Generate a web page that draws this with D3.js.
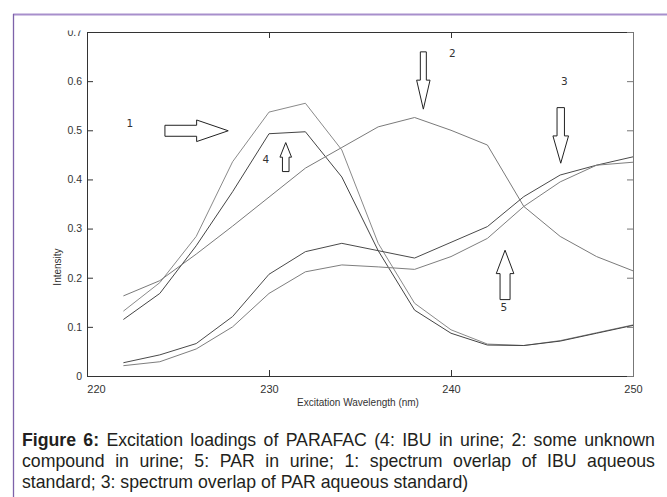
<!DOCTYPE html>
<html><head><meta charset="utf-8">
<script src="https://cdn.jsdelivr.net/npm/d3@7/dist/d3.min.js"></script>
<style>body{margin:0;background:#fff}svg{display:block}</style>
</head><body>
<svg id="c" width="667" height="497"></svg>
<script>
// ---- data ----
const wavelengths = [222,224,226,228,230,232,234,236,238,240,242,244,246,248,250];
const ibuAqueous   = [0.132,0.190,0.284,0.436,0.537,0.555,0.460,0.270,0.148,0.094,0.065,0.062,0.072,0.088,0.104]; // 1
const ibuUrine     = [0.115,0.168,0.265,0.375,0.493,0.497,0.405,0.255,0.134,0.087,0.063,0.062,0.071,0.087,0.103]; // 4
const unknownUrine = [0.163,0.194,0.248,0.305,0.364,0.423,0.465,0.507,0.526,0.500,0.470,0.345,0.284,0.243,0.214]; // 2
const parAqueous   = [0.027,0.043,0.066,0.121,0.207,0.253,0.270,0.255,0.240,0.272,0.304,0.365,0.409,0.429,0.446]; // 3
const parUrine     = [0.021,0.029,0.055,0.100,0.168,0.212,0.226,0.222,0.217,0.243,0.280,0.345,0.395,0.429,0.435]; // 5
const xTicks = [220,230,240,250];
const yTicks = [0,0.1,0.2,0.3,0.4,0.5,0.6,0.7];
const yTickLabels = ["0","0.1","0.2","0.3","0.4","0.5","0.6","0.7"];
const xTitle = "Excitation Wavelength (nm)";
const yTitle = "Intensity";
const annLabels = ["1","2","3","4","5"];
const annLabelNm  = [222.36,240.07,246.23,229.82,242.91];
const annLabelVal = [0.514,0.657,0.600,0.442,0.141];
const arrowNm  = [227.76,238.48,246.03,230.92,242.97];
const arrowVal = [0.499,0.543,0.433,0.475,0.256];
const captionLines = [
  "Figure 6: Excitation loadings of PARAFAC (4: IBU in urine; 2: some unknown",
  "compound in urine; 5: PAR in urine; 1: spectrum overlap of IBU aqueous",
  "standard; 3: spectrum overlap of PAR aqueous standard)"
];

// ---- layout ----
const svg = d3.select("#c");
const L = 87, R = 633, T = 32, B = 376;
const x = d3.scaleLinear().domain([220,250]).range([L,R]);
const y = d3.scaleLinear().domain([0,0.7]).range([B,T]);

// purple frame
svg.append("line").attr("x1",13).attr("x2",667).attr("y1",14.5).attr("y2",14.5)
  .attr("stroke","#a88fcc").attr("stroke-width",2);
svg.append("line").attr("x1",13.5).attr("x2",13.5).attr("y1",14).attr("y2",497)
  .attr("stroke","#7d62aa").attr("stroke-width",1.3);

const axisFont = "'Liberation Sans', Arial, sans-serif";
const g = svg.append("g");

// curves
const line = d3.line().x((d,i)=>x(wavelengths[i])).y(d=>y(d));
const seriesList = [ibuAqueous, ibuUrine, unknownUrine, parAqueous, parUrine];
const seriesColor = ["#8a8a8a","#444","#7a7a7a","#4a4a4a","#7e7e7e"];
seriesList.forEach((s,k)=>{
  g.append("path").datum(s).attr("d",line).attr("fill","none")
   .attr("stroke",seriesColor[k]).attr("stroke-width",1);
});

// axes (ticks inward)
const tl = 6;
const axB = d3.axisBottom(x).tickValues(xTicks).tickSize(-tl).tickPadding(9).tickFormat(d3.format("d"));
const gx = g.append("g").attr("transform",`translate(0,${B})`).call(axB);
const axL = d3.axisLeft(y).tickValues(yTicks).tickSize(-tl).tickPadding(5).tickFormat((d,i)=>yTickLabels[i]);
const gy = g.append("g").attr("transform",`translate(${L},0)`).call(axL);
const axT = d3.axisTop(x).tickValues(xTicks.slice(1,-1)).tickSize(-tl).tickFormat("");
const gt = g.append("g").attr("transform",`translate(0,${T})`).call(axT);
const axR = d3.axisRight(y).tickValues(yTicks.slice(1,-1)).tickSize(-tl).tickFormat("");
const gr = g.append("g").attr("transform",`translate(${R},0)`).call(axR);
[gx,gy,gt,gr].forEach(a=>{
  a.selectAll(".domain").attr("stroke","#333");
  a.selectAll(".tick line").attr("stroke","#333");
  a.selectAll("text").attr("fill","#333").style("font-family",axisFont);
});
gr.selectAll(".domain").attr("stroke","#777");
gr.selectAll(".tick line").attr("stroke","#777");
gx.selectAll("text").style("font-size","11px");
gy.selectAll("text").style("font-size","10.5px");
gx.selectAll(".tick").filter(d=>d===220).select("text").attr("dx",9);
svg.append("clipPath").attr("id","clipTop").append("rect").attr("x",-40).attr("y",-2).attr("width",40).attr("height",20);
gy.selectAll(".tick").filter(d=>d===0.7).select("text").attr("clip-path","url(#clipTop)");

// axis titles
g.append("text").attr("x",(x(220)+x(250))/2-2).attr("y",406).attr("text-anchor","middle")
  .style("font-family",axisFont).style("font-size","10px").attr("fill","#333").text(xTitle);
g.append("text").attr("transform",`translate(61,267) rotate(-90)`).attr("text-anchor","middle")
  .style("font-family",axisFont).style("font-size","10px").attr("fill","#333").text(yTitle);

// annotation labels
annLabels.forEach((t,i)=>{
  g.append("text").attr("x",x(annLabelNm[i])).attr("y",y(annLabelVal[i])+4).attr("text-anchor","middle")
   .style("font-family","'DejaVu Sans', sans-serif").style("font-size","10.5px").attr("fill","#333").text(t);
});

// block arrows: [dir, headLen, headHalf, shaftHalf, shaftLen]
const arrowShape = [
  ["right",31.6,10.8,5.5,31.7],
  ["down",29,6.7,3,28.3],
  ["down",27.3,7.8,3.7,28.3],
  ["up",14.6,5.8,3.3,14.4],
  ["up",23.4,8.8,5,26]
];
arrowShape.forEach((a,i)=>{
  const [dir,hl,hh,sh,sl] = a;
  const tx = x(arrowNm[i]), ty = y(arrowVal[i]);
  const pts = [[0,0],[-hl,-hh],[-hl,-sh],[-hl-sl,-sh],[-hl-sl,sh],[-hl,sh],[-hl,hh]];
  const map = {right:(u,v)=>[tx+u,ty+v], down:(u,v)=>[tx+v,ty+u], up:(u,v)=>[tx+v,ty-u]}[dir];
  g.append("path").attr("d","M"+pts.map(p=>map(p[0],p[1]).join(",")).join("L")+"Z")
   .attr("fill","#fff").attr("stroke","#222").attr("stroke-width",1);
});

// caption: condensed font, justified first two lines
const capFont = "'Liberation Sans', Arial, sans-serif";
const capLeft = 22, capRight = 655, capSize = 17.5;
const capBase = [446, 467, 488];
const spaceW = capSize*0.278;
let sx = 1;
const lineNodes = captionLines.map((ln,li)=>{
  const words = ln.split(" ");
  const nodes = words.map((w,wi)=>{
    const bold = li===0 && wi<2;
    return g.append("text").attr("y",capBase[li]).style("font-family",capFont)
      .style("font-size",capSize+"px").style("font-weight",bold?"bold":"normal")
      .attr("fill","#231f20").text(w);
  });
  const widths = nodes.map(n=>n.node().getComputedTextLength());
  return {nodes, widths, total:d3.sum(widths)};
});
{
  const l0 = lineNodes[0];
  sx = 0.955*(capRight-capLeft)/(l0.total + spaceW*(l0.nodes.length-1));
}
lineNodes.forEach((ln,li)=>{
  const n = ln.nodes.length;
  const gap = li<2 ? ((capRight-capLeft)/sx - ln.total)/(n-1) : spaceW;
  let cx = 0;
  ln.nodes.forEach((nd,k)=>{
    nd.attr("x",0).attr("transform",`translate(${capLeft+cx*sx},0) scale(${sx},1)`);
    cx += ln.widths[k]+gap;
  });
});
</script>
</body></html>
